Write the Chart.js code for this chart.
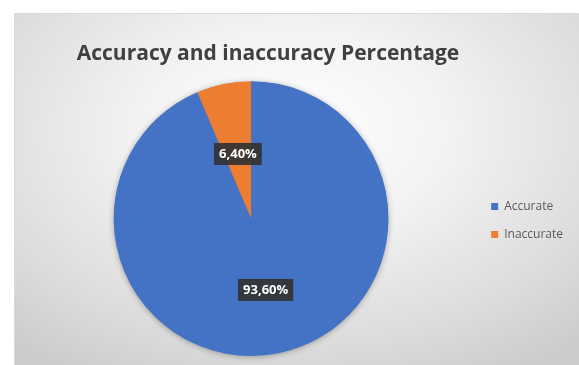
<!DOCTYPE html>
<html>
<head>
<meta charset="utf-8">
<script src="https://cdn.jsdelivr.net/npm/chart.js@4"></script>
<style>
  html, body { margin: 0; padding: 0; background: #ffffff; overflow: hidden; }
  #frame {
    position: absolute; left: 14px; top: 13px; width: 580px; height: 360px;
    border: 1px solid #d9d9d9;
    background: radial-gradient(ellipse 75% 80% at 48% 32%, #ffffff 0%, #f3f3f3 35%, #dcdcdc 75%, #cbcbcb 100%);
  }
  #wrap { position: absolute; left: 0; top: 0; width: 579px; height: 365px; }
</style>
</head>
<body>
<div id="frame"></div>
<div id="wrap"><canvas id="pieChart"></canvas></div>
<script>
// data
const categories = ["Accurate", "Inaccurate"];
const percentValues = [93.6, 6.4];
const sliceColors = ["#4472C4", "#ED7D31"];
const chartTitle = "Accuracy and inaccuracy Percentage";

// how far out (share of radius) each value box sits
const labelRadius = [0.53, 0.48];

// soft shadow under the pie, like the Excel one
const pieShadow = {
    id: "pieShadow",
    beforeDatasetsDraw(chart) {
        const arc = chart.getDatasetMeta(0).data[0];
        if (!arc) return;
        const p = arc.getProps(["x", "y", "outerRadius"], true);
        const ctx = chart.ctx;
        ctx.save();
        ctx.shadowColor = "rgba(0,0,0,0.35)";
        ctx.shadowBlur = 6;
        ctx.shadowOffsetY = 1;
        ctx.fillStyle = sliceColors[0];
        ctx.beginPath();
        ctx.arc(p.x, p.y, p.outerRadius - 0.5, 0, Math.PI * 2);
        ctx.fill();
        ctx.restore();
    },
};

// label boxes on the slices, "93,60%" style
const sliceLabels = {
    id: "sliceLabels",
    afterDatasetsDraw(chart) {
        const ctx = chart.ctx;
        const meta = chart.getDatasetMeta(0);
        ctx.save();
        ctx.font = "bold 13px 'Open Sans'";
        ctx.textAlign = "center";
        ctx.textBaseline = "middle";
        meta.data.forEach((arc, i) => {
            const p = arc.getProps(["x", "y", "startAngle", "endAngle", "outerRadius"], true);
            const mid = (p.startAngle + p.endAngle) / 2;
            const r = p.outerRadius * labelRadius[i];
            const x = p.x + Math.cos(mid) * r;
            const y = p.y + Math.sin(mid) * r;
            const txt = percentValues[i].toFixed(2).replace(".", ",") + "%";
            const w = ctx.measureText(txt).width + 10;
            ctx.fillStyle = "rgba(50,50,50,0.92)";
            ctx.fillRect(x - w / 2, y - 11, w, 22);
            ctx.fillStyle = "#ffffff";
            ctx.fillText(txt, x, y);
        });
        ctx.restore();
    },
};

// title and legend were moved by hand in the original, nudge them
const boxShift = {
    id: "boxShift",
    afterLayout(chart) {
        const t = chart.titleBlock;
        if (t) {
            const dx = 268 - (t.left + t.right) / 2;
            t.left += dx;
            t.right += dx;
        }
        const l = chart.legend;
        if (l) {
            l.top += 36;
            l.bottom += 36;
            l.left -= 1;
            l.right -= 1;
        }
    },
};

new Chart(document.getElementById("pieChart"), {
    type: "pie",
    data: {
        labels: categories,
        datasets: [
            {
                data: percentValues,
                backgroundColor: sliceColors,
                borderWidth: 0,
            },
        ],
    },
    options: {
        responsive: true,
        maintainAspectRatio: false,
        animation: false,
        layout: { padding: { left: 26, right: 5, top: 13, bottom: 9 } },
        plugins: {
            title: {
                display: true,
                text: chartTitle,
                color: "#404040",
                font: { family: "'Open Sans'", size: 21, weight: "bold" },
                padding: { top: 28, bottom: 15 },
            },
            legend: {
                position: "right",
                labels: {
                    boxWidth: 7,
                    boxHeight: 7,
                    padding: 16,
                    color: "#595959",
                    font: { family: "'Open Sans'", size: 12 },
                },
            },
            tooltip: { enabled: false },
        },
    },
    plugins: [pieShadow, sliceLabels, boxShift],
});
</script>
</body>
</html>
